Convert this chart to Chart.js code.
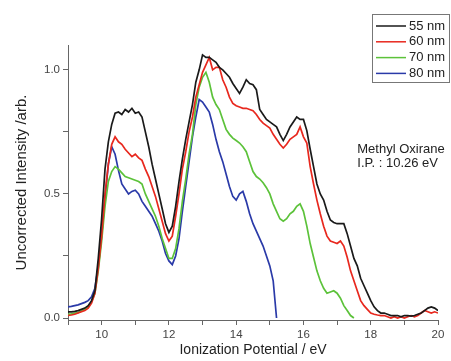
<!DOCTYPE html>
<html>
<head>
<meta charset="utf-8">
<script src="https://cdn.jsdelivr.net/npm/chart.js@4"></script>
<style>
  html, body { margin: 0; padding: 0; background: #fff; }
  #wrap { width: 451px; height: 361px; }
</style>
</head>
<body>
<div id="wrap"><canvas id="spectrumChart" width="451" height="361"></canvas></div>
<script>
// photon energy axis (eV)
const energy = [
  9.0, 9.1, 9.2, 9.3, 9.4, 9.5, 9.6, 9.7, 9.8, 9.9,
  10.0, 10.1, 10.2, 10.3, 10.4, 10.5, 10.6, 10.7, 10.8, 10.9,
  11.0, 11.1, 11.2, 11.3, 11.4, 11.5, 11.6, 11.7, 11.8, 11.9,
  12.0, 12.1, 12.2, 12.3, 12.4, 12.5, 12.6, 12.7, 12.8, 12.9,
  13.0, 13.1, 13.2, 13.3, 13.4, 13.5, 13.6, 13.7, 13.8, 13.9,
  14.0, 14.1, 14.2, 14.3, 14.4, 14.5, 14.6, 14.7, 14.8, 14.9,
  15.0, 15.1, 15.2, 15.3, 15.4, 15.5, 15.6, 15.7, 15.8, 15.9,
  16.0, 16.1, 16.2, 16.3, 16.4, 16.5, 16.6, 16.7, 16.8, 16.9,
  17.0, 17.1, 17.2, 17.3, 17.4, 17.5, 17.6, 17.7, 17.8, 17.9,
  18.0, 18.1, 18.2, 18.3, 18.4, 18.5, 18.6, 18.7, 18.8, 18.9,
  19.0, 19.1, 19.2, 19.3, 19.4, 19.5, 19.6, 19.7, 19.8, 19.9,
  20.0
];

const int55 = [
  0.025, 0.025, 0.027, 0.03, 0.035, 0.04, 0.05, 0.07, 0.11, 0.24,
  0.40, 0.60, 0.71, 0.78, 0.825, 0.83, 0.82, 0.84, 0.83, 0.845,
  0.825, 0.83, 0.81, 0.75, 0.69, 0.62, 0.56, 0.50, 0.44, 0.38,
  0.345, 0.37, 0.45, 0.55, 0.64, 0.72, 0.79, 0.86, 0.95, 1.00,
  1.06, 1.05, 1.05, 1.04, 1.03, 1.01, 1.00, 0.985, 0.97, 0.945,
  0.925, 0.905, 0.93, 0.96, 0.945, 0.94, 0.92, 0.84, 0.82, 0.80,
  0.79, 0.78, 0.77, 0.74, 0.715, 0.74, 0.77, 0.79, 0.81, 0.80,
  0.80, 0.755, 0.68, 0.61, 0.54, 0.50, 0.475, 0.43, 0.395, 0.385,
  0.38, 0.38, 0.38, 0.34, 0.29, 0.24, 0.21, 0.16, 0.13, 0.10,
  0.07, 0.045, 0.03, 0.02, 0.02, 0.015, 0.01, 0.01, 0.01, 0.005,
  0.01, 0.01, 0.008, 0.01, 0.015, 0.02, 0.03, 0.04, 0.045, 0.04,
  0.03
];

const int60 = [
  0.01, 0.012, 0.015, 0.02, 0.025, 0.03, 0.04, 0.06, 0.10, 0.20,
  0.33, 0.50, 0.62, 0.70, 0.73, 0.71, 0.70, 0.68, 0.665, 0.65,
  0.66, 0.645, 0.635, 0.60, 0.57, 0.53, 0.49, 0.44, 0.39, 0.34,
  0.31, 0.33, 0.41, 0.50, 0.60, 0.67, 0.75, 0.81, 0.89, 0.94,
  0.99, 1.02, 1.05, 1.00, 1.01, 1.01, 0.96, 0.93, 0.89, 0.865,
  0.855, 0.85, 0.845, 0.845, 0.84, 0.835, 0.82, 0.80, 0.785, 0.775,
  0.765, 0.74, 0.72, 0.70, 0.685, 0.70, 0.72, 0.73, 0.74, 0.77,
  0.73, 0.705, 0.61, 0.54, 0.475, 0.42, 0.37, 0.33, 0.31, 0.305,
  0.30, 0.31, 0.29, 0.245, 0.19, 0.15, 0.11, 0.07, 0.05, 0.035,
  0.02, 0.015, 0.012, 0.01, 0.01, 0.005, 0.0, 0.005, 0.0, 0.005,
  0.0, 0.005, 0.01, 0.005, 0.01, 0.02, 0.03, 0.025, 0.02, 0.025,
  0.02
];

const int70 = [
  0.015, 0.017, 0.02, 0.022, 0.028, 0.035, 0.045, 0.065, 0.10, 0.19,
  0.31, 0.45, 0.55, 0.59, 0.61, 0.60, 0.585, 0.57, 0.565, 0.56,
  0.555, 0.55, 0.54, 0.50, 0.47, 0.44, 0.41, 0.37, 0.32, 0.28,
  0.24, 0.24, 0.28, 0.36, 0.47, 0.56, 0.66, 0.74, 0.86, 0.93,
  0.97, 0.99, 0.95, 0.89, 0.86, 0.84, 0.80, 0.76, 0.74, 0.725,
  0.715, 0.705, 0.69, 0.67, 0.63, 0.59, 0.57, 0.56, 0.545, 0.525,
  0.50, 0.46, 0.43, 0.40, 0.39, 0.40, 0.42, 0.43, 0.45, 0.46,
  0.43, 0.37, 0.30, 0.245, 0.19, 0.15, 0.12, 0.10, 0.105, 0.11,
  0.10, 0.08, 0.05, 0.03, 0.01, 0.0, null, null, null, null,
  null, null, null, null, null, null, null, null, null, null,
  null, null, null, null, null, null, null, null, null, null,
  null
];

const int80 = [
  0.045, 0.047, 0.05, 0.053, 0.058, 0.063, 0.07, 0.085, 0.12, 0.21,
  0.33, 0.48, 0.62, 0.69, 0.66, 0.595, 0.54, 0.52, 0.50, 0.51,
  0.515, 0.50, 0.47, 0.45, 0.43, 0.41, 0.38, 0.35, 0.31, 0.26,
  0.23, 0.215, 0.25, 0.32, 0.43, 0.53, 0.63, 0.73, 0.81, 0.88,
  0.87, 0.85, 0.83, 0.78, 0.72, 0.67, 0.63, 0.58, 0.53, 0.49,
  0.475, 0.50, 0.51, 0.47, 0.42, 0.38, 0.35, 0.32, 0.29, 0.25,
  0.21, 0.15, 0.0, null, null, null, null, null, null, null,
  null, null, null, null, null, null, null, null, null, null,
  null, null, null, null, null, null, null, null, null, null,
  null, null, null, null, null, null, null, null, null, null,
  null, null, null, null, null, null, null, null, null, null,
  null
];

const seriesLabels = ['55 nm', '60 nm', '70 nm', '80 nm'];
const seriesColors = ['#1a1a1a', '#e8281e', '#5cc23a', '#2a3aa8'];
const xTickValues = [9, 10, 11, 12, 13, 14, 15, 16, 17, 18, 19, 20];
const yTickValues = [0, 0.25, 0.5, 0.75, 1.0];

function toPoints(arr) {
  return energy.map((e, i) => ({ x: e, y: arr[i] }));
}

const FONT = '"Liberation Sans", Arial, sans-serif';

// legend box + annotation
const extras = {
  id: 'extras',
  afterDatasetsDraw(chart) {
    const ctx = chart.ctx;
    ctx.save();
    ctx.strokeStyle = '#777';
    ctx.lineWidth = 1;
    ctx.strokeRect(372.5, 14.5, 77, 68);
    ctx.font = '13px ' + FONT;
    ctx.textBaseline = 'middle';
    chart.data.datasets.forEach((ds, i) => {
      const y = 26 + i * 15.8;
      ctx.strokeStyle = ds.borderColor;
      ctx.lineWidth = 1.5;
      ctx.beginPath();
      ctx.moveTo(376, y);
      ctx.lineTo(406, y);
      ctx.stroke();
      ctx.fillStyle = '#222';
      ctx.fillText(ds.label, 409, y);
    });
    const xs = chart.scales.x, ys = chart.scales.y;
    const ax = xs.getPixelForValue(17.6);
    const ay = ys.getPixelForValue(0.68);
    ctx.fillStyle = '#222';
    ctx.fillText('Methyl Oxirane', ax, ay);
    ctx.fillText('I.P. : 10.26 eV', ax, ay + 14);
    ctx.restore();
  }
};

const ctxSpec = document.getElementById('spectrumChart').getContext('2d');
new Chart(ctxSpec, {
  type: 'line',
  data: {
    datasets: [int55, int60, int70, int80].map((arr, i) => ({
      label: seriesLabels[i],
      data: toPoints(arr),
      borderColor: seriesColors[i],
      borderWidth: 1.7,
      pointRadius: 0,
      fill: false,
      tension: 0,
      spanGaps: false
    }))
  },
  options: {
    responsive: false,
    animation: false,
    layout: { padding: { left: 9, top: 45, right: 13, bottom: 0 } },
    plugins: {
      legend: { display: false },
      tooltip: { enabled: false }
    },
    scales: {
      x: {
        type: 'linear',
        min: 9,
        max: 20,
        afterBuildTicks: s => { s.ticks = xTickValues.map(v => ({ value: v })); },
        afterFit: s => { s.height = 41; },
        ticks: {
          color: '#444',
          font: { family: FONT, size: 11.5 },
          padding: 3,
          maxRotation: 0,
          callback: v => (v % 2 === 0 ? String(v) : '')
        },
        grid: { drawOnChartArea: false, drawTicks: true, tickLength: 5, color: '#666' },
        border: { display: true, color: '#666', width: 1 },
        title: {
          display: true,
          text: 'Ionization Potential / eV',
          color: '#222',
          font: { family: FONT, size: 14, lineHeight: 1.3 },
          padding: { top: 2, bottom: 2 }
        }
      },
      y: {
        min: -0.008,
        max: 1.1,
        afterBuildTicks: s => { s.ticks = yTickValues.map(v => ({ value: v })); },
        afterFit: s => { s.width = 59; },
        ticks: {
          color: '#444',
          font: { family: FONT, size: 11.5 },
          padding: 3,
          callback: v => (Math.abs(v * 2 - Math.round(v * 2)) < 1e-6 ? v.toFixed(1) : '')
        },
        grid: { drawOnChartArea: false, drawTicks: true, tickLength: 5, color: '#666' },
        border: { display: true, color: '#666', width: 1 },
        title: {
          display: true,
          text: 'Uncorrected Intensity /arb.',
          color: '#222',
          font: { family: FONT, size: 15 },
          padding: { top: 4, bottom: 4 }
        }
      }
    }
  },
  plugins: [extras]
});
</script>
</body>
</html>
